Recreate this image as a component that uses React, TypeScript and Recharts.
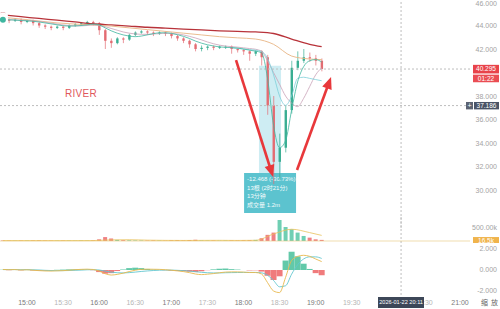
import React from "react";
import {
  Bar,
  Cell,
  ComposedChart,
  Line,
  ReferenceArea,
  ReferenceLine,
  XAxis,
  YAxis,
} from "recharts";

// minutes since midnight, 5-minute bars
const barTimes = [
  880, 885, 890, 895, 900, 905, 910, 915, 920, 925, 930, 935, 940, 945, 950, 955, 960, 965,
  970, 975, 980, 985, 990, 995, 1000, 1005, 1010, 1015, 1020, 1025, 1030, 1035, 1040, 1045,
  1050, 1055, 1060, 1065, 1070, 1075, 1080, 1085, 1090, 1095, 1100, 1105, 1110, 1115, 1120,
  1125, 1130, 1135, 1140, 1145,
];
const opens = [
  44.6, 44.5, 44.4, 44.5, 44.3, 44.4, 44.2, 44.0, 43.9, 43.8, 43.9, 43.8, 44.0, 44.1, 44.2, 44.3,
  44.2, 43.6, 42.7, 42.5, 42.9, 42.8, 43.2, 43.4, 43.5, 43.4, 43.3, 43.4, 43.3, 43.1, 42.9, 42.7,
  42.4, 42.0, 42.1, 42.2, 42.1, 42.2, 42.2, 42.0, 41.9, 41.8, 41.6, 41.8, 41.3, 37.2, 32.4, 33.6,
  36.8, 40.4, 41.0, 41.3, 41.2, 41.0,
];
const highs = [
  44.7, 44.6, 44.6, 44.6, 44.5, 44.5, 44.3, 44.1, 44.0, 44.0, 44.0, 44.1, 44.2, 44.3, 44.4, 44.4,
  44.3, 43.7, 42.9, 43.0, 43.0, 43.3, 43.5, 43.6, 43.6, 43.5, 43.5, 43.5, 43.4, 43.2, 43.0, 42.8,
  42.5, 42.3, 42.3, 42.3, 42.3, 42.3, 42.3, 42.1, 42.0, 41.9, 41.9, 41.9, 41.5, 38.0, 34.8, 37.2,
  41.0, 41.8, 42.0, 41.7, 41.5, 41.2,
];
const lows = [
  44.3, 44.2, 44.3, 44.1, 44.2, 44.0, 43.8, 43.7, 43.6, 43.7, 43.6, 43.7, 43.9, 44.0, 44.1, 44.0,
  43.2, 42.0, 42.1, 42.4, 42.5, 42.7, 43.1, 43.3, 43.2, 43.1, 43.2, 43.1, 42.9, 42.7, 42.5, 42.1,
  41.8, 41.8, 41.9, 41.9, 42.0, 42.0, 41.6, 41.7, 41.5, 41.0, 41.4, 40.6, 36.4, 30.5, 30.9, 33.2,
  36.5, 40.2, 40.8, 40.9, 40.6, 40.1,
];
const closes = [
  44.5, 44.4, 44.5, 44.3, 44.4, 44.2, 44.0, 43.9, 43.8, 43.9, 43.8, 44.0, 44.1, 44.2, 44.3, 44.2,
  43.6, 42.7, 42.5, 42.9, 42.8, 43.2, 43.4, 43.5, 43.4, 43.3, 43.4, 43.3, 43.1, 42.9, 42.7, 42.4,
  42.0, 42.1, 42.2, 42.1, 42.2, 42.2, 42.0, 41.9, 41.8, 41.6, 41.8, 41.3, 37.2, 32.4, 33.6, 36.8,
  40.4, 41.0, 41.3, 41.2, 41.0, 40.3,
];
// volume in thousands
const volumes = [
  15, 12, 10, 14, 12, 18, 20, 15, 12, 10, 14, 12, 10, 15, 12, 20, 60, 140, 90, 40, 30, 25, 20,
  18, 15, 20, 15, 12, 25, 30, 20, 35, 45, 20, 15, 18, 12, 15, 20, 18, 25, 30, 40, 100, 220, 300,
  750, 500, 420, 300, 180, 120, 60, 40,
];
const maFast = [
  44.5, 44.48, 44.46, 44.42, 44.4, 44.36, 44.3, 44.22, 44.14, 44.06, 43.98, 43.95, 43.96, 44.0,
  44.06, 44.12, 44.05, 43.8, 43.55, 43.35, 43.2, 43.1, 43.05, 43.1, 43.2, 43.3, 43.38, 43.38,
  43.33, 43.22, 43.08, 42.9, 42.68, 42.5, 42.36, 42.26, 42.18, 42.14, 42.12, 42.08, 42.0, 41.9,
  41.82, 41.68, 39.5, 35.5, 33.6, 34.2, 36.8, 39.2, 40.5, 41.0, 41.1, 40.9,
];
const maPink = [
  44.55, 44.5, 44.48, 44.45, 44.42, 44.4, 44.35, 44.28, 44.2, 44.12, 44.05, 44.0, 43.97, 43.97,
  44.0, 44.05, 44.02, 43.9, 43.75, 43.6, 43.45, 43.35, 43.28, 43.25, 43.25, 43.28, 43.3, 43.34,
  43.33, 43.28, 43.2, 43.08, 42.94, 42.78, 42.6, 42.45, 42.33, 42.25, 42.2, 42.16, 42.1, 42.04,
  41.98, 41.8, 41.0, 40.0, 39.0, 38.0, 37.4, 37.1, 37.8, 38.8, 39.8, 40.4,
];
const maCyan = [
  null, null, null, null, null, null, null, null, null, null, null, null, null, null, null, null,
  null, null, null, null, null, null, null, null, null, null, null, null, null, null, null, null,
  null, null, null, null, null, null, 42.1, 42.05, 42.0, 41.95, 41.9, 41.8, 41.2, 39.8, 38.0,
  37.2, 38.0, 39.5, 39.6, 39.5, 39.4, 39.3,
];
const macdHist = [
  0.02, -0.02, 0.01, -0.03, 0.02, -0.04, -0.06, -0.05, -0.03, 0.02, 0.04, 0.06, 0.06, 0.05, 0.03,
  -0.02, -0.2, -0.35, -0.3, -0.1, 0.05, 0.18, 0.22, 0.18, 0.1, 0.04, 0.02, -0.02, -0.06, -0.1,
  -0.12, -0.16, -0.2, -0.12, -0.02, 0.06, 0.12, 0.14, 0.08, 0.04, 0.0, -0.04, -0.03, -0.15,
  -0.55, -0.95, -0.6, 0.9, 1.74, 1.3, 0.6, 0.1, -0.3, -0.5,
];
const macdDif = [
  0.05, 0.03, 0.04, 0.0, 0.02, -0.02, -0.06, -0.09, -0.1, -0.08, -0.06, -0.02, 0.03, 0.06, 0.08,
  0.05, -0.1, -0.35, -0.48, -0.42, -0.3, -0.15, -0.02, 0.06, 0.08, 0.07, 0.06, 0.03, -0.02,
  -0.08, -0.15, -0.25, -0.38, -0.44, -0.4, -0.34, -0.26, -0.2, -0.18, -0.18, -0.2, -0.24, -0.24,
  -0.38, -1.2, -2.0, -2.15, -0.7, 0.9, 1.3, 1.4, 1.3, 1.05, 0.8,
];
const macdDea = [
  0.04, 0.04, 0.04, 0.03, 0.03, 0.02, 0.0, -0.03, -0.05, -0.06, -0.06, -0.05, -0.03, -0.01, 0.02,
  0.03, 0.0, -0.1, -0.2, -0.26, -0.28, -0.25, -0.2, -0.14, -0.09, -0.05, -0.02, -0.01, -0.01,
  -0.03, -0.06, -0.1, -0.16, -0.22, -0.26, -0.28, -0.28, -0.26, -0.25, -0.24, -0.23, -0.23,
  -0.23, -0.27, -0.5, -1.0, -1.6, -1.5, -0.4, 0.5, 1.05, 1.25, 1.25, 1.1,
];

// slow averages, sampled every 15 minutes
const maTimes = [
  880, 895, 910, 925, 940, 955, 970, 985, 1000, 1015, 1030, 1045, 1060, 1075, 1090, 1105, 1120,
  1135, 1145,
];
const maRed = [
  44.9, 44.75, 44.6, 44.45, 44.3, 44.15, 44.05, 43.95, 43.85, 43.78, 43.7, 43.62, 43.55, 43.5,
  43.45, 43.32, 42.85, 42.4, 42.2,
];
const maOrange = [
  44.7, 44.55, 44.38, 44.22, 44.12, 44.05, 43.95, 43.8, 43.65, 43.5, 43.35, 43.2, 43.05, 42.95,
  42.85, 42.4, 41.4, 41.15, 41.1,
];
const volMa = [15, 15, 14, 14, 15, 16, 40, 45, 30, 22, 20, 22, 24, 20, 25, 250, 420, 300, 200];

const timeTicks = [900, 930, 960, 990, 1020, 1050, 1080, 1110, 1140, 1170, 1230, 1260];
const priceTicks = [30, 32, 34, 36, 38, 42, 44, 46];
const macdTicks = [2, 0, -2];
const lastPrice = 40.295;
const markPrice = 37.186;
const lastVolume = 16.5;
const cursorTime = 1211;
const cursorLabel = "2026-01-22 20:11";

const rows = barTimes.map((t, i) => {
  const k = maTimes.indexOf(t);
  return {
    t,
    o: opens[i],
    h: highs[i],
    l: lows[i],
    c: closes[i],
    vol: volumes[i],
    fast: maFast[i],
    pink: maPink[i],
    cyan: maCyan[i],
    hist: macdHist[i],
    dif: macdDif[i],
    dea: macdDea[i],
    red: k >= 0 ? maRed[k] : null,
    orange: k >= 0 ? maOrange[k] : null,
    volMa: k >= 0 ? volMa[k] : null,
  };
});

const X_DOMAIN: [number, number] = [877.6, 1268.3];
const PLOT_W = 470;
const UP = "#3aae92";
const DOWN = "#e36c72";
const ARROW = "#e8383b";
const AXIS_TEXT = "#a3a3a3";
const DASH = "#bdbdbd";

const hhmm = (m: number) =>
  `${String(Math.floor(m / 60)).padStart(2, "0")}:${String(m % 60).padStart(2, "0")}`;

function rightTick(fmt: (v: number) => string) {
  return (p: any) => (
    <text x={497} y={Math.max(p.y, 3.5)} dy={2.5} textAnchor="end" fontSize={7} fill={AXIS_TEXT}>
      {fmt(p.payload.value)}
    </text>
  );
}

function Candle(props: any) {
  const { x, y, width, height, payload } = props;
  if (!payload || height == null) return null;
  const { o, h, l, c } = payload;
  const top = Math.min(y, y + height);
  const span = Math.abs(height);
  const py = (v: number) => top + ((h - v) / (h - l)) * span;
  const color = c >= o ? UP : DOWN;
  const cx = x + width / 2;
  const b1 = py(Math.max(o, c));
  const b2 = py(Math.min(o, c));
  return (
    <g>
      <line x1={cx} x2={cx} y1={top} y2={top + span} stroke={color} strokeWidth={0.7} />
      <rect x={x} y={b1} width={width} height={Math.max(b2 - b1, 0.8)} fill={color} />
    </g>
  );
}

function Arrow(props: any) {
  const { x1, y1, x2, y2 } = props;
  if ([x1, y1, x2, y2].some((v) => v == null || isNaN(v))) return null;
  const dx = x2 - x1;
  const dy = y2 - y1;
  const len = Math.hypot(dx, dy);
  const ux = dx / len;
  const uy = dy / len;
  const hl = 12;
  const hw = 5;
  const bx = x2 - ux * hl;
  const by = y2 - uy * hl;
  const pts = `${x2},${y2} ${bx - uy * hw},${by + ux * hw} ${bx + uy * hw},${by - ux * hw}`;
  return (
    <g>
      <line x1={x1} y1={y1} x2={bx + ux} y2={by + uy} stroke={ARROW} strokeWidth={2.6} />
      <polygon points={pts} fill={ARROW} />
    </g>
  );
}

function LastPriceTag(props: any) {
  const vb = props.viewBox;
  if (!vb) return null;
  const left = vb.x + vb.width + 3;
  return (
    <g>
      <rect x={left} y={vb.y - 4.2} width={26} height={8.6} fill="#e8434a" />
      <text x={left + 13} y={vb.y} dy={2.3} textAnchor="middle" fontSize={6.5} fill="#fff">
        {lastPrice.toFixed(3)}
      </text>
      <rect x={left} y={vb.y + 5.6} width={26} height={7.6} fill="#ea4d53" />
      <text x={left + 13} y={vb.y + 9.4} dy={2.3} textAnchor="middle" fontSize={6.5} fill="#fff">
        01:22
      </text>
    </g>
  );
}

function MarkTag(props: any) {
  const vb = props.viewBox;
  if (!vb) return null;
  const left = vb.x + vb.width + 4;
  return (
    <g>
      <rect x={left - 8} y={vb.y - 3.6} width={7} height={7.4} fill="#5b6372" />
      <text x={left - 4.5} y={vb.y} dy={2.4} textAnchor="middle" fontSize={7} fill="#fff">
        +
      </text>
      <rect x={left} y={vb.y - 3.6} width={25} height={7.4} fill="#4a5467" />
      <text x={left + 12.5} y={vb.y} dy={2.3} textAnchor="middle" fontSize={6.5} fill="#fff">
        {markPrice.toFixed(3)}
      </text>
    </g>
  );
}

function VolumeTag(props: any) {
  const vb = props.viewBox;
  if (!vb) return null;
  const left = vb.x + vb.width + 3;
  return (
    <g>
      <rect x={left} y={vb.y - 3.5} width={26} height={7} fill="#f0b44c" />
      <text x={left + 13} y={vb.y} dy={2.3} textAnchor="middle" fontSize={6.5} fill="#fff">
        {`${lastVolume}k`}
      </text>
    </g>
  );
}

function MeasureBox(props: any) {
  const vb = props.viewBox;
  if (!vb) return null;
  const lines = ["-12.468 (-30.73%)", "13根 (2时21分)", "13分钟", "成交量 1.2m"];
  return (
    <g>
      {lines.map((s, i) => (
        <text key={i} x={vb.x + 3} y={vb.y + 6 + i * 8.6} dy={2} fontSize={6} fill="#f4fbfc">
          {s}
        </text>
      ))}
    </g>
  );
}

function TimeTick(p: any) {
  const v = p.payload.value;
  return (
    <text
      x={p.x}
      y={59.5}
      dy={2.5}
      textAnchor="middle"
      fontSize={7}
      fill={v % 60 === 0 ? "#7a7a7a" : "#b5b5b5"}
    >
      {hhmm(v)}
    </text>
  );
}

const noMargin = { top: 0, right: 0, bottom: 0, left: 0 };

function PricePane() {
  return (
    <ComposedChart width={500} height={228} data={rows} margin={noMargin}>
      <XAxis type="number" dataKey="t" domain={X_DOMAIN} allowDataOverflow hide />
      <YAxis
        orientation="right"
        width={30}
        domain={[26.77, 46.17]}
        allowDataOverflow
        ticks={priceTicks}
        interval={0}
        axisLine={false}
        tickLine={false}
        tick={rightTick((v) => v.toFixed(3))}
      />
      <ReferenceArea
        x1={1092.9}
        x2={1111.2}
        y1={28.1}
        y2={40.57}
        fill="#a6dfe9"
        fillOpacity={0.55}
        stroke="none"
        ifOverflow="visible"
      />
      <ReferenceLine y={lastPrice} stroke={DASH} strokeDasharray="2 2" label={<LastPriceTag />} />
      <ReferenceLine y={markPrice} stroke={DASH} strokeDasharray="2 2" label={<MarkTag />} />
      <ReferenceLine x={cursorTime} stroke={DASH} strokeDasharray="2 2" />
      <Line dataKey="red" stroke="#b8333a" strokeWidth={1.3} dot={false} type="monotone" connectNulls isAnimationActive={false} />
      <Line dataKey="orange" stroke="#e8b483" strokeWidth={0.9} dot={false} type="monotone" connectNulls isAnimationActive={false} />
      <Line dataKey="pink" stroke="#c9a2b8" strokeWidth={0.8} dot={false} type="monotone" isAnimationActive={false} />
      <Line dataKey="cyan" stroke="#7dcfd9" strokeWidth={0.8} dot={false} type="monotone" isAnimationActive={false} />
      <Line dataKey="fast" stroke="#3fb6a0" strokeWidth={0.8} dot={false} type="monotone" isAnimationActive={false} />
      <Bar dataKey={(d: any) => [d.l, d.h]} barSize={2.4} shape={<Candle />} isAnimationActive={false} />
      <ReferenceArea
        x1={1080.5}
        x2={1123.7}
        y1={28.04}
        y2={31.45}
        fill="#5cc3cf"
        fillOpacity={1}
        stroke="none"
        ifOverflow="visible"
        label={<MeasureBox />}
      />
      <ReferenceLine
        segment={[{ x: 1073.8, y: 41.06 }, { x: 1104.6, y: 31.11 }]}
        shape={<Arrow />}
        ifOverflow="visible"
      />
      <ReferenceLine
        segment={[{ x: 1124.5, y: 31.7 }, { x: 1152.8, y: 39.62 }]}
        shape={<Arrow />}
        ifOverflow="visible"
      />
    </ComposedChart>
  );
}

function VolumePane() {
  return (
    <ComposedChart width={500} height={28} data={rows} margin={noMargin}>
      <XAxis type="number" dataKey="t" domain={X_DOMAIN} allowDataOverflow hide />
      <YAxis
        orientation="right"
        width={30}
        domain={[-71.4, 928.6]}
        allowDataOverflow
        ticks={[500]}
        interval={0}
        axisLine={false}
        tickLine={false}
        tick={rightTick((v) => `${v.toFixed(2)}k`)}
      />
      <ReferenceLine x={cursorTime} stroke={DASH} strokeDasharray="2 2" />
      <ReferenceLine y={0} stroke="#e6c77a" strokeWidth={0.6} />
      <Bar dataKey="vol" barSize={4} isAnimationActive={false}>
        {rows.map((r, i) => (
          <Cell key={i} fill={r.c >= r.o ? "#6fcfb3" : "#ef8084"} />
        ))}
      </Bar>
      <Line dataKey="volMa" stroke="#e9c15a" strokeWidth={0.8} dot={false} type="monotone" connectNulls isAnimationActive={false} />
      <ReferenceLine y={lastVolume} stroke="none" label={<VolumeTag />} />
    </ComposedChart>
  );
}

function MacdPane() {
  return (
    <ComposedChart width={500} height={66} data={rows} margin={noMargin}>
      <XAxis
        type="number"
        dataKey="t"
        domain={X_DOMAIN}
        allowDataOverflow
        ticks={timeTicks}
        interval={0}
        height={14}
        axisLine={false}
        tickLine={false}
        tick={<TimeTick />}
      />
      <YAxis
        orientation="right"
        width={30}
        domain={[-2.381, 2.571]}
        allowDataOverflow
        ticks={macdTicks}
        interval={0}
        axisLine={false}
        tickLine={false}
        tick={rightTick((v) => v.toFixed(3))}
      />
      <Bar dataKey="hist" barSize={6} isAnimationActive={false}>
        {rows.map((r, i) => (
          <Cell key={i} fill={r.hist >= 0 ? "#62c9a9" : "#f07b7c"} />
        ))}
      </Bar>
      <Line dataKey="dea" stroke="#62c6cf" strokeWidth={0.9} dot={false} type="monotone" isAnimationActive={false} />
      <Line dataKey="dif" stroke="#e8b94f" strokeWidth={0.9} dot={false} type="monotone" isAnimationActive={false} />
      <ReferenceLine x={cursorTime} stroke={DASH} strokeDasharray="2 2" />
    </ComposedChart>
  );
}

const cursorX = ((cursorTime - X_DOMAIN[0]) / (X_DOMAIN[1] - X_DOMAIN[0])) * PLOT_W;

export default function App() {
  return (
    <div
      style={{
        position: "absolute",
        left: 0,
        top: 0,
        width: 500,
        height: 309,
        background: "#fff",
        overflow: "hidden",
        fontFamily: '"Liberation Sans", Arial, "Noto Sans CJK SC", sans-serif',
      }}
    >
      <div style={{ position: "absolute", left: 0, top: 0 }}>
        <PricePane />
      </div>
      <div style={{ position: "absolute", left: 0, top: 215 }}>
        <VolumePane />
      </div>
      <div style={{ position: "absolute", left: 0, top: 243 }}>
        <MacdPane />
      </div>
      <div
        style={{
          position: "absolute",
          left: cursorX - 23,
          top: 297,
          width: 46,
          height: 11,
          background: "#3d4758",
          color: "#fff",
          fontSize: 5.6,
          lineHeight: "11px",
          textAlign: "center",
          whiteSpace: "nowrap",
        }}
      >
        {cursorLabel}
      </div>
      <div style={{ position: "absolute", left: 65, top: 88, color: "#e0575b", fontSize: 10, letterSpacing: 0.3 }}>
        RIVER
      </div>
      <div
        style={{
          position: "absolute",
          left: 481,
          top: 298,
          color: "#666",
          fontSize: 7,
          lineHeight: "8px",
          letterSpacing: 3,
          whiteSpace: "nowrap",
          fontFamily: '"Noto Sans CJK SC", sans-serif',
        }}
      >
        缩放
      </div>
    </div>
  );
}
